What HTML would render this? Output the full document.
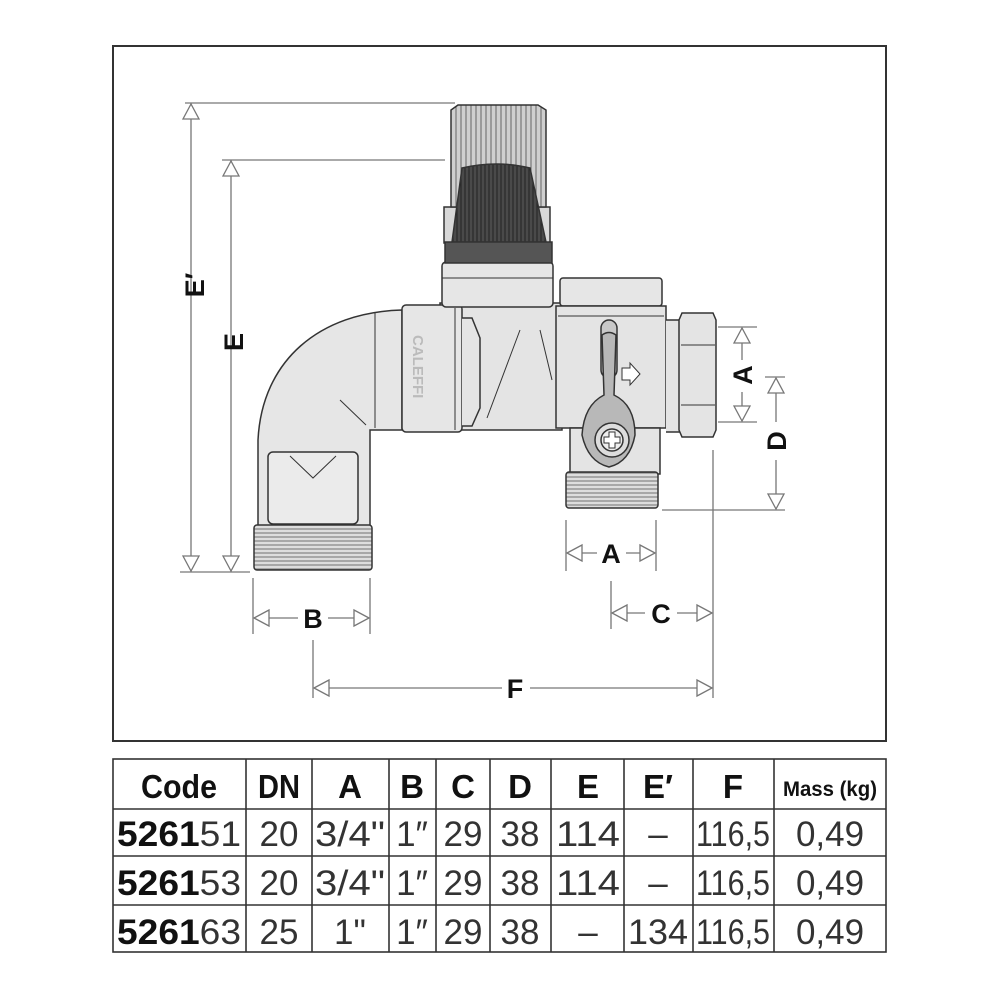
<!DOCTYPE html>
<html><head><meta charset="utf-8"><style>
html,body{margin:0;padding:0;background:#fff;width:1000px;height:1000px;overflow:hidden}
svg{display:block}
text{font-family:"Liberation Sans",sans-serif}
</style></head><body>
<svg width="1000" height="1000" viewBox="0 0 1000 1000">
<defs>
<pattern id="rib" width="5" height="10" patternUnits="userSpaceOnUse"><rect width="5" height="10" fill="#cfcfcf"/><line x1="1" y1="0" x2="1" y2="10" stroke="#666" stroke-width="1"/></pattern>
<pattern id="ribd" width="4" height="10" patternUnits="userSpaceOnUse"><rect width="4" height="10" fill="#4a4a4a"/><line x1="1" y1="0" x2="1" y2="10" stroke="#222" stroke-width="1"/></pattern>
<pattern id="thr" width="10" height="4" patternUnits="userSpaceOnUse"><rect width="10" height="4" fill="#ddd"/><line x1="0" y1="1" x2="10" y2="1" stroke="#555" stroke-width="0.8"/></pattern>
</defs>
<rect x="113" y="46" width="773" height="695" fill="none" stroke="#333" stroke-width="2"/>

<g stroke="#777" stroke-width="1.3" fill="#fff">
<line x1="185" y1="103" x2="455" y2="103"/>
<line x1="191" y1="103" x2="191" y2="572"/>
<path d="M191 104 l-8 15 h16z"/><path d="M191 571 l-8 -15 h16z"/>
<line x1="222" y1="160" x2="445" y2="160"/>
<line x1="231" y1="160" x2="231" y2="572"/>
<path d="M231 161 l-8 15 h16z"/><path d="M231 571 l-8 -15 h16z"/>
<line x1="180" y1="572" x2="250" y2="572"/>
<line x1="253" y1="578" x2="253" y2="634"/><line x1="370" y1="578" x2="370" y2="634"/>
<line x1="254" y1="618" x2="298" y2="618"/><line x1="328" y1="618" x2="369" y2="618"/>
<path d="M254 618 l15 -8 v16z"/><path d="M369 618 l-15 -8 v16z"/>
<line x1="313" y1="640" x2="313" y2="698"/><line x1="713" y1="450" x2="713" y2="698"/>
<line x1="314" y1="688" x2="502" y2="688"/><line x1="530" y1="688" x2="712" y2="688"/>
<path d="M314 688 l15 -8 v16z"/><path d="M712 688 l-15 -8 v16z"/>
<line x1="611" y1="581" x2="611" y2="629"/>
<line x1="612" y1="613" x2="645" y2="613"/><line x1="677" y1="613" x2="712" y2="613"/>
<path d="M612 613 l15 -8 v16z"/><path d="M712 613 l-15 -8 v16z"/>
<line x1="566" y1="520" x2="566" y2="571"/><line x1="656" y1="520" x2="656" y2="571"/>
<line x1="567" y1="553" x2="597" y2="553"/><line x1="626" y1="553" x2="655" y2="553"/>
<path d="M567 553 l15 -8 v16z"/><path d="M655 553 l-15 -8 v16z"/>
<line x1="718" y1="327" x2="757" y2="327"/><line x1="718" y1="422" x2="757" y2="422"/>
<line x1="742" y1="328" x2="742" y2="360"/><line x1="742" y1="392" x2="742" y2="421"/>
<path d="M742 328 l-8 15 h16z"/><path d="M742 421 l-8 -15 h16z"/>
<line x1="765" y1="377" x2="785" y2="377"/><line x1="662" y1="510" x2="785" y2="510"/>
<line x1="776" y1="378" x2="776" y2="422"/><line x1="776" y1="460" x2="776" y2="509"/>
<path d="M776 378 l-8 15 h16z"/><path d="M776 509 l-8 -15 h16z"/>
</g>
<g font-weight="bold" font-size="27" fill="#111" text-anchor="middle">
<text x="313" y="628">B</text>
<text x="515" y="698">F</text>
<text x="661" y="623">C</text>
<text x="611" y="563">A</text>
<text transform="translate(204,285) rotate(-90)">E′</text>
<text transform="translate(243,342) rotate(-90)">E</text>
<text transform="translate(752,375) rotate(-90)">A</text>
<text transform="translate(786,441) rotate(-90)">D</text>
</g>

<g stroke="#333" stroke-width="1.5">
<path d="M402 310 C320 312 262 360 258 440 L258 530 L370 530 L370 430 L402 430 Z" fill="#e6e6e6"/>
<line x1="375" y1="312" x2="375" y2="428" stroke-width="1"/>
<line x1="340" y1="400" x2="366" y2="425" stroke-width="1"/>
<rect x="268" y="452" width="90" height="72" rx="5" fill="#ebebeb"/>
<path d="M290 456 L313 478 L336 456" fill="none" stroke-width="1"/>
<rect x="254" y="525" width="118" height="45" rx="3" fill="url(#thr)"/>
<path d="M440 303 H562 V430 H440 Z" fill="#e4e4e4"/>
<path d="M520 330 L487 418 M540 330 L552 380" fill="none" stroke-width="1"/>
<rect x="402" y="305" width="60" height="127" rx="4" fill="#e6e6e6"/>
<line x1="455" y1="308" x2="455" y2="430" stroke-width="1"/>
<path d="M462 318 h10 l8 20 v70 l-8 18 h-10" fill="#e4e4e4"/>
<text transform="translate(413,335) rotate(90)" font-size="15" font-weight="bold" fill="#bbb" stroke="none" font-family="Liberation Sans">CALEFFI</text>
<rect x="442" y="262" width="111" height="45" rx="4" fill="#e6e6e6"/>
<line x1="442" y1="278" x2="553" y2="278" stroke-width="1"/>
<rect x="444" y="207" width="106" height="36" fill="#d8d8d8"/>
<path d="M451 207 V110 L458 105 H538 L546 110 V207 Z" fill="url(#rib)"/>
<path d="M462 168 Q497 160 530 168 L546 242 H452 Z" fill="url(#ribd)"/>
<rect x="445" y="242" width="107" height="21" fill="#555"/>
<rect x="560" y="278" width="102" height="28" rx="3" fill="#e6e6e6"/>
<path d="M556 306 H666 V428 H556 Z" fill="#e4e4e4"/>
<line x1="558" y1="316" x2="664" y2="316" stroke-width="1"/>
<path d="M666 320 H680 V432 H666" fill="#e4e4e4"/>
<path d="M682 313 H713 L716 320 V430 L713 437 H682 L679 430 V320 Z" fill="#e4e4e4"/>
<line x1="681" y1="345" x2="715" y2="345" stroke-width="1"/><line x1="681" y1="405" x2="715" y2="405" stroke-width="1"/>
<rect x="570" y="428" width="90" height="46" fill="#e4e4e4"/>
<rect x="566" y="472" width="92" height="36" rx="3" fill="url(#thr)"/>
<rect x="601" y="320" width="16" height="58" rx="8" fill="#c8c8c8"/>
<path d="M602 335 Q609 330 616 335 L614 395 Q635 405 635 435 Q630 462 609 467 Q588 462 582 435 Q584 405 604 395 Z" fill="#b8b8b8"/>
<circle cx="612" cy="440" r="17" fill="#ddd"/>
<circle cx="612" cy="440" r="11" fill="#eee"/>
<path d="M609 432 h6 v5 h5 v6 h-5 v5 h-6 v-5 h-5 v-6 h5 z" fill="#fff" stroke-width="1"/>
<path d="M622 368 h8 v-5 l10 11 -10 11 v-5 h-8 z" fill="#fff" stroke-width="1"/>
</g>

<g stroke="#333" stroke-width="1.6" fill="none">
<rect x="113" y="759" width="773" height="193"/>
<line x1="113" y1="809" x2="886" y2="809"/>
<line x1="113" y1="856" x2="886" y2="856"/>
<line x1="113" y1="905" x2="886" y2="905"/>
<line x1="246" y1="759" x2="246" y2="952"/>
<line x1="312" y1="759" x2="312" y2="952"/>
<line x1="389" y1="759" x2="389" y2="952"/>
<line x1="436" y1="759" x2="436" y2="952"/>
<line x1="490" y1="759" x2="490" y2="952"/>
<line x1="551" y1="759" x2="551" y2="952"/>
<line x1="624" y1="759" x2="624" y2="952"/>
<line x1="693" y1="759" x2="693" y2="952"/>
<line x1="774" y1="759" x2="774" y2="952"/>
</g>
<g font-weight="bold" font-size="33" fill="#111" text-anchor="middle">
<text x="179" y="798" textLength="76" lengthAdjust="spacingAndGlyphs">Code</text><text x="279" y="798" textLength="42" lengthAdjust="spacingAndGlyphs">DN</text><text x="350" y="798">A</text>
<text x="412" y="798">B</text><text x="463" y="798">C</text><text x="520" y="798">D</text>
<text x="588" y="798">E</text><text x="658" y="798">E′</text><text x="733" y="798">F</text>
<text x="830" y="796" font-size="21" textLength="94" lengthAdjust="spacingAndGlyphs">Mass (kg)</text>
</g>
<g font-size="35" fill="#333" text-anchor="middle">
<text x="179" y="846" textLength="124" lengthAdjust="spacingAndGlyphs"><tspan font-weight="bold" fill="#111">5261</tspan>51</text>
<text x="179" y="895" textLength="124" lengthAdjust="spacingAndGlyphs"><tspan font-weight="bold" fill="#111">5261</tspan>53</text>
<text x="179" y="944" textLength="124" lengthAdjust="spacingAndGlyphs"><tspan font-weight="bold" fill="#111">5261</tspan>63</text>
<text x="279" y="846">20</text><text x="279" y="895">20</text><text x="279" y="944">25</text>
<text x="350" y="846" textLength="70" lengthAdjust="spacingAndGlyphs">3/4"</text><text x="350" y="895" textLength="70" lengthAdjust="spacingAndGlyphs">3/4"</text><text x="350" y="944">1"</text>
<text x="412" y="846">1″</text><text x="412" y="895">1″</text><text x="412" y="944">1″</text>
<text x="463" y="846">29</text><text x="463" y="895">29</text><text x="463" y="944">29</text>
<text x="520" y="846">38</text><text x="520" y="895">38</text><text x="520" y="944">38</text>
<text x="588" y="846" textLength="64" lengthAdjust="spacingAndGlyphs">114</text><text x="588" y="895" textLength="64" lengthAdjust="spacingAndGlyphs">114</text><text x="588" y="944">–</text>
<text x="658" y="846">–</text><text x="658" y="895">–</text><text x="658" y="944" textLength="60" lengthAdjust="spacingAndGlyphs">134</text>
<text x="733" y="846" textLength="74" lengthAdjust="spacingAndGlyphs">116,5</text><text x="733" y="895" textLength="74" lengthAdjust="spacingAndGlyphs">116,5</text><text x="733" y="944" textLength="74" lengthAdjust="spacingAndGlyphs">116,5</text>
<text x="830" y="846">0,49</text><text x="830" y="895">0,49</text><text x="830" y="944">0,49</text>
</g>
</svg>
</body></html>
